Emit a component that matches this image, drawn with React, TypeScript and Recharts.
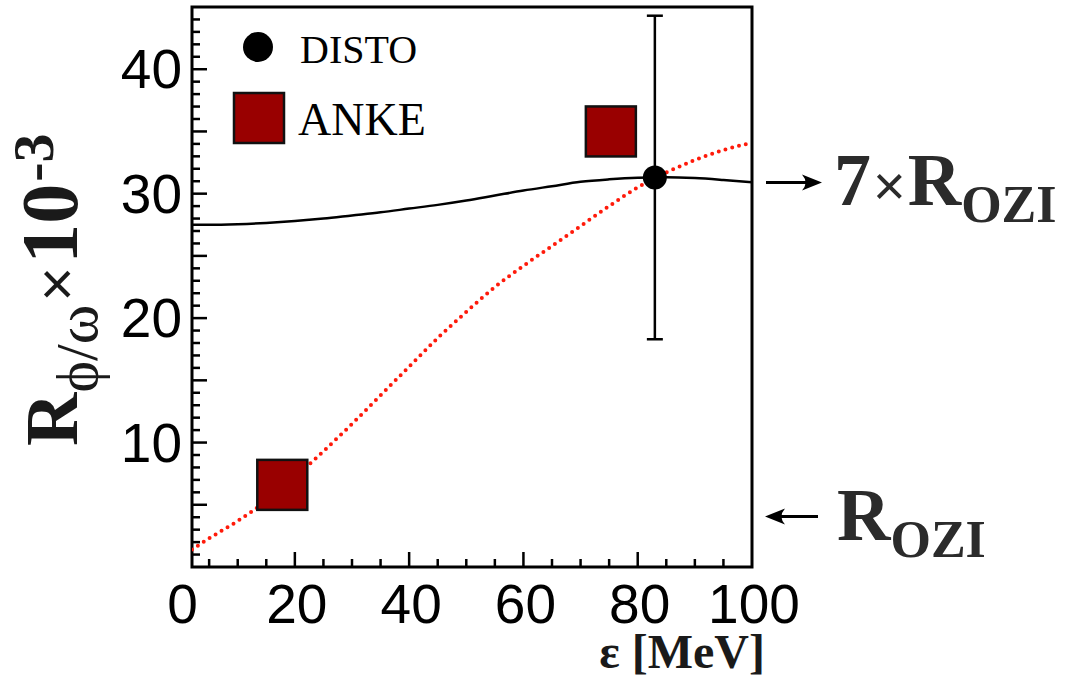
import {
  ComposedChart,
  Line,
  Scatter,
  ErrorBar,
  XAxis,
  YAxis,
  ReferenceArea,
  ReferenceDot,
  Legend,
} from "recharts";

// energy grid for the two model curves
const curveX = [2, 5, 10, 15, 20, 25, 30, 35, 40, 45, 50, 55, 60, 65, 70, 75, 80, 85, 90, 95, 100];
const solidCurve = [27.5, 27.5, 27.55, 27.65, 27.8, 28.0, 28.25, 28.5, 28.8, 29.1, 29.45, 29.85, 30.25, 30.6, 30.95, 31.15, 31.28, 31.32, 31.25, 31.1, 30.92];
const dottedCurve = [1.4, 2.3, 3.7, 5.3, 7.2, 9.3, 11.5, 13.8, 16.1, 18.4, 20.5, 22.5, 24.2, 25.8, 27.4, 29.0, 30.5, 31.7, 32.7, 33.5, 34.1];

// measurements
const distoX = [83];
const distoY = [31.3];
const distoLow = [18.3];
const distoHigh = [44.3];
const ankeX = [17.8, 75.3];
const ankeY = [6.6, 35.0];

// OZI reference levels marked past the right edge
const oziLevels = [4.05, 30.9];
const oziPrefix = ["", "7"];

const xTicks = [0, 5, 10, 15, 20, 25, 30, 35, 40, 45, 50, 55, 60, 65, 70, 75, 80, 85, 90, 95, 100];
const xLabels = [0, 20, 40, 60, 80, 100];
const yTicks = Array.from({ length: 44 }, (_, i) => i + 1);
const yLabels = [10, 20, 30, 40];

const X_DOMAIN: [number, number] = [2, 100];
const Y_DOMAIN: [number, number] = [0, 45];

const curveData = curveX.map((x, i) => ({ x, solid: solidCurve[i], dotted: dottedCurve[i] }));
const distoData = distoX.map((x, i) => ({
  x,
  y: distoY[i],
  err: [distoY[i] - distoLow[i], distoHigh[i] - distoY[i]],
}));
const ankeData = ankeX.map((x, i) => ({ x, y: ankeY[i] }));

const SERIF = "'Liberation Serif', 'Times New Roman', serif";
const SANS = "'Liberation Sans', Arial, Helvetica, sans-serif";
const DARK_RED = "#990000";
const TICK_FONT = 55;

const XTick = (props: any) => {
  const { x, y, payload } = props;
  const v = payload.value;
  const major = v % 20 === 0;
  return (
    <g>
      {v > X_DOMAIN[0] && v < X_DOMAIN[1] && (
        <line x1={x} x2={x} y1={y} y2={y - (major ? 15 : 8)} stroke="#000" strokeWidth={2.5} />
      )}
      {xLabels.includes(v) && (
        <text x={x + 2} y={y + 56} textAnchor="middle" fontFamily={SANS} fontSize={TICK_FONT} fill="#000">
          {v}
        </text>
      )}
    </g>
  );
};

const YTick = (props: any) => {
  const { x, y, payload } = props;
  const v = payload.value;
  const len = v % 5 === 0 ? 15 : 8;
  return (
    <g>
      <line x1={x} x2={x + len} y1={y} y2={y} stroke="#000" strokeWidth={2.5} />
      {yLabels.includes(v) && (
        <text x={x - 10} y={y + 19} textAnchor="end" fontFamily={SANS} fontSize={TICK_FONT} fill="#000">
          {v}
        </text>
      )}
    </g>
  );
};

// arrow + label drawn beside the frame at a given OZI level
const OziMark = (props: any) => {
  const { cx, cy, prefix } = props;
  const x = cx;
  const y = cy;
  const pointsRight = prefix !== "";
  const tail = pointsRight ? x + 14 : x + 66;
  const head = pointsRight ? x + 70 : x + 13;
  const d = pointsRight ? 1 : -1;
  const textX = pointsRight ? x + 82 : x + 85;
  return (
    <g>
      <line x1={tail} x2={head - d * 8} y1={y} y2={y} stroke="#000" strokeWidth={3} />
      <path
        d={`M${head},${y} L${head - d * 20},${y - 8} Q${head - d * 13},${y} ${head - d * 20},${y + 8} Z`}
        fill="#000"
      />
      <text x={textX} y={y + 23} fontFamily={SERIF} fontWeight="bold" fontSize={74} fill="#2b2b2b">
        {prefix && (
          <>
            {prefix}
            <tspan fontFamily={SANS} fontWeight="normal" fontSize={56} dx={2}>
              ×
            </tspan>
          </>
        )}
        <tspan dx={prefix ? 2 : 0}>R</tspan>
        <tspan fontSize={52} dy={17}>
          OZI
        </tspan>
      </text>
    </g>
  );
};

const YTitle = () => (
  <text transform="translate(77, 446) rotate(-90)" fontFamily={SERIF} fill="#1a1a1a">
    <tspan fontWeight="bold" fontSize={74}>R</tspan>
    <tspan fontSize={60} dy={20}>ϕ/ω</tspan>
    <tspan fontFamily={SANS} fontSize={60} dy={-20} dx={3}>×</tspan>
    <tspan fontWeight="bold" fontSize={80} dx={3}>10</tspan>
    <tspan fontWeight="bold" fontSize={58} dy={-24} dx={2}>-3</tspan>
  </text>
);

const CircleMark = (props: any) => {
  const { cx, cy } = props;
  return <circle cx={cx} cy={cy} r={12} fill="#000" />;
};

const SquareMark = (props: any) => {
  const { cx, cy } = props;
  return <rect x={cx - 25} y={cy - 25} width={50} height={50} fill={DARK_RED} stroke="#111" strokeWidth={2.5} />;
};

const LegendBox = () => (
  <svg width={240} height={130} style={{ overflow: "visible" }}>
    <circle cx={33} cy={22} r={15} fill="#000" />
    <text x={75} y={38} fontFamily={SERIF} fontSize={40} fill="#000">
      DISTO
    </text>
    <rect x={9} y={68} width={50} height={50} fill={DARK_RED} stroke="#111" strokeWidth={2.5} />
    <text x={73} y={110} fontFamily={SERIF} fontSize={46} fill="#000">
      ANKE
    </text>
  </svg>
);

export default function App() {
  return (
    <div style={{ position: "absolute", left: 0, top: 0, background: "#fff" }}>
      <ComposedChart
        width={1078}
        height={677}
        data={curveData}
        margin={{ top: 7, right: 326, bottom: 109, left: 191 }}
      >
        <XAxis
          dataKey="x"
          type="number"
          domain={X_DOMAIN}
          allowDataOverflow
          ticks={xTicks}
          interval={0}
          height={1}
          tickSize={0}
          tickMargin={0}
          axisLine={false}
          tickLine={false}
          tick={<XTick />}
        />
        <YAxis
          type="number"
          domain={Y_DOMAIN}
          allowDataOverflow
          ticks={yTicks}
          interval={0}
          width={1}
          tickSize={0}
          tickMargin={0}
          axisLine={false}
          tickLine={false}
          tick={<YTick />}
          label={{ content: () => <YTitle /> }}
        />
        <ReferenceArea
          x1={X_DOMAIN[0]}
          x2={X_DOMAIN[1]}
          y1={Y_DOMAIN[0]}
          y2={Y_DOMAIN[1]}
          fill="none"
          fillOpacity={0}
          stroke="#000"
          strokeWidth={3}
          label={{
            content: () => (
              <text x={765} y={668} textAnchor="end" fontFamily={SERIF} fontWeight="bold" fontSize={48} fill="#1a1a1a">
                ε [MeV]
              </text>
            ),
          }}
        />
        {oziLevels.map((level, i) => (
          <ReferenceDot
            key={level}
            x={X_DOMAIN[1]}
            y={level}
            r={0}
            ifOverflow="visible"
            shape={(p: any) => <OziMark {...p} prefix={oziPrefix[i]} />}
          />
        ))}
        <Line
          dataKey="solid"
          type="monotone"
          stroke="#000"
          strokeWidth={2.5}
          dot={false}
          isAnimationActive={false}
        />
        <Line
          dataKey="dotted"
          type="monotone"
          stroke="#ff1a0a"
          strokeWidth={4}
          strokeDasharray="0 7"
          strokeLinecap="round"
          dot={false}
          isAnimationActive={false}
        />
        <Scatter name="ANKE" data={ankeData} dataKey="y" shape={<SquareMark />} isAnimationActive={false} />
        <Scatter name="DISTO" data={distoData} dataKey="y" shape={<CircleMark />} isAnimationActive={false}>
          <ErrorBar dataKey="err" direction="y" width={8} stroke="#000" strokeWidth={2.5} isAnimationActive={false} />
        </Scatter>
        <Legend
          layout="horizontal"
          verticalAlign="middle"
          align="center"
          content={() => <LegendBox />}
          wrapperStyle={{ position: "absolute", left: 225, top: 25, width: 260, height: 130 }}
        />
      </ComposedChart>
    </div>
  );
}
